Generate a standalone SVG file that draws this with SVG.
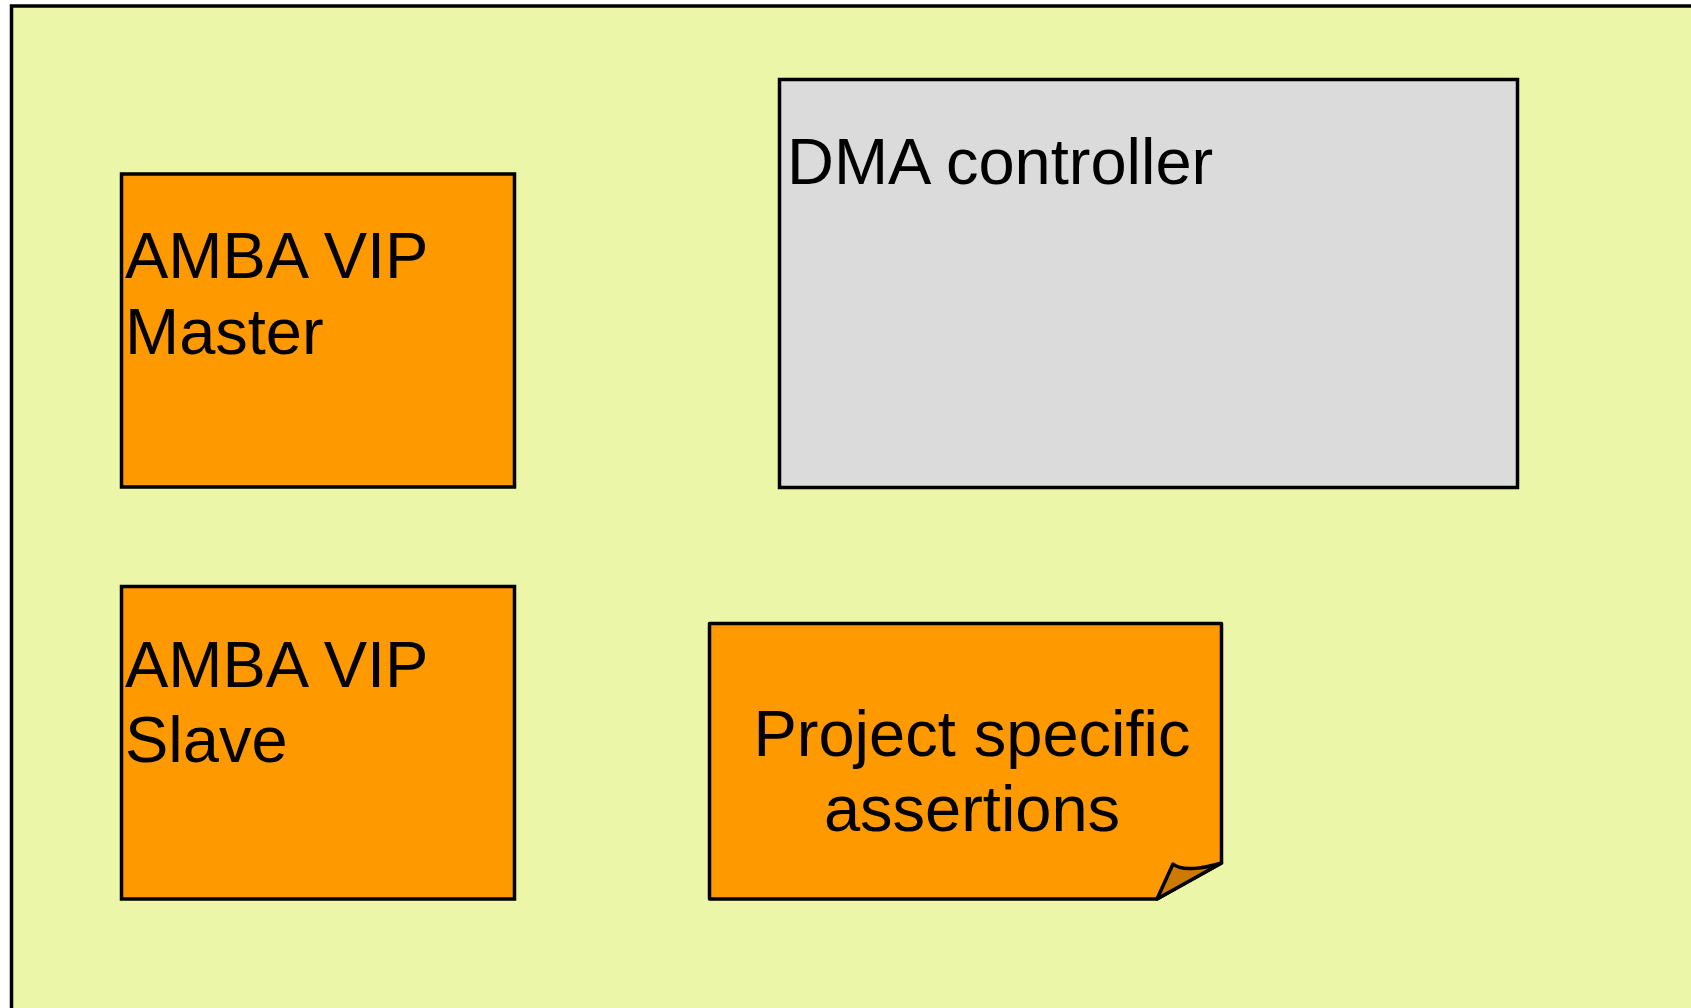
<svg xmlns="http://www.w3.org/2000/svg" width="1691" height="1008" viewBox="0 0 1691 1008">
  <style>
    .box { stroke: #000; stroke-width: 3.5; }
    .orange { fill: #FF9900; }
    .grey { fill: #DBDBDB; }
    .label { font-family: "Liberation Sans", Arial, sans-serif; font-size: 65px; fill: #000; }
  </style>
  <rect width="1691" height="1008" fill="#FFFFFF"/>
  <!-- enclosing environment panel -->
  <g id="environment">
    <rect x="11.5" y="6" width="1700" height="1020" fill="#ECF6A8" stroke="#000" stroke-width="3.5"/>
  </g>
  <g id="amba-master">
    <rect class="box orange" x="121.5" y="174" width="393" height="313"/>
    <text class="label" x="125" y="278">AMBA VIP</text>
    <text class="label" x="125" y="354">Master</text>
  </g>
  <g id="dma-controller">
    <rect class="box grey" x="779.5" y="79.5" width="738" height="408"/>
    <text class="label" x="787" y="184">DMA controller</text>
  </g>
  <g id="amba-slave">
    <rect class="box orange" x="121.5" y="586.5" width="393" height="312.5"/>
    <text class="label" x="125" y="687">AMBA VIP</text>
    <text class="label" x="125" y="762">Slave</text>
  </g>
  <g id="assertions-note">
    <path class="box orange" stroke-linejoin="round" d="M709.5,623.5 H1221.5 V863 L1157,899 H709.5 Z"/>
    <path fill="#CC7A00" stroke="#000" stroke-width="3.5" stroke-linejoin="round" d="M1157,899 L1173,864 C1182,872 1205,868 1221.5,863 Z"/>
    <text class="label" x="972" y="756" text-anchor="middle">Project specific</text>
    <text class="label" x="972" y="831" text-anchor="middle">assertions</text>
  </g>
  <g id="connectors"/>
</svg>
